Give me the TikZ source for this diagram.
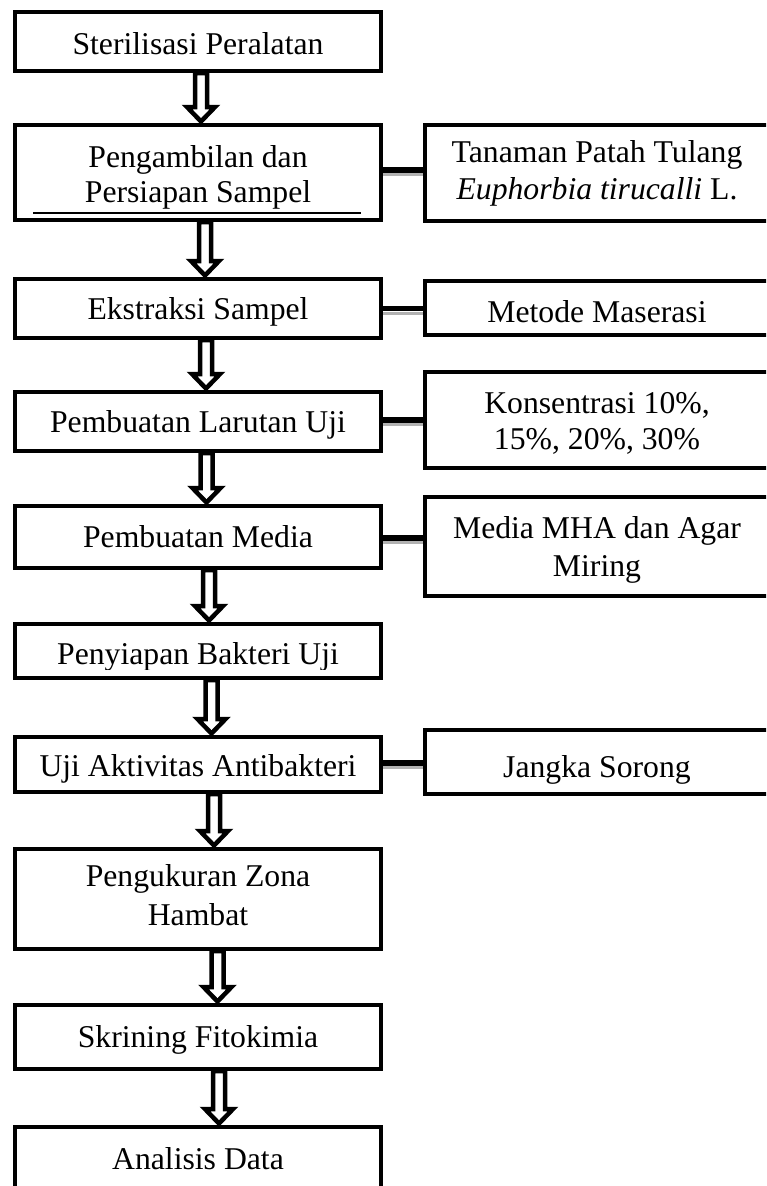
\documentclass[tikz,border=0pt]{standalone}
\usepackage{fontspec}
\setmainfont{Liberation Serif}
\usetikzlibrary{calc}

% hollow double-stroke arrow from the bottom of one box to the top of the next
% #1 = upper node, #2 = lower node, #3 = horizontal offset of the arrow axis
\newcommand\hollowflow[3]{%
  \draw[flowarrow] let \p1=($(#1.south)+(#3,0)$), \p2=($(#2.north)+(#3,0)$) in
    (\x1-6pt,\y1) -- (\x1-6pt,\y2+16pt) -- (\x1-14pt,\y2+16pt) -- (\x1,\y2+1.5pt)
    -- (\x1+14pt,\y2+16pt) -- (\x1+6pt,\y2+16pt) -- (\x1+6pt,\y1) -- cycle;%
}
% invisible struts that fix the vertical extent of two-line labels
\newcommand\firstrow[1]{\rule{0pt}{#1pt}}
\newcommand\lastrow{\rule[-9pt]{0pt}{9pt}}

\begin{document}
\begin{tikzpicture}[x=1pt,y=-1pt,
  boxtext/.style={inner sep=0pt, align=center, font=\fontsize{31.7}{37}\selectfont},
  leading/.style={font=\fontsize{31.7}{#1}\selectfont},
  box/.style={boxtext, draw=black, line width=4pt, fill=white},
  mainbox/.style={box, minimum width=366pt},
  sidebox/.style={box, minimum width=344pt},
  oneline/.style={text height=21pt, text depth=0pt},
  link/.style={line width=5.5pt, black},
  linkshade/.style={line width=3pt, black!30},
  flowarrow/.style={draw=black, fill=white, line width=4.5pt, line join=miter},
]
\useasboundingbox (0,0) rectangle (766,1186);
\clip (0,0) rectangle (766,1186);

% main sequence of steps
\node[mainbox, oneline, text height=26pt, minimum height=59pt] (s1) at (198,41.5) {Sterilisasi Peralatan};
\node[mainbox, leading=35, minimum height=95pt] (s2) at (198,172.5)
  {\firstrow{33}Pengambilan dan\\Persiapan Sampel\lastrow};
\node[mainbox, oneline, minimum height=59pt]  (s3)  at (198,308.5) {Ekstraksi Sampel};
\node[mainbox, oneline, minimum height=59pt]  (s4)  at (198,421.5) {Pembuatan Larutan Uji};
\node[mainbox, oneline, minimum height=62pt]  (s5)  at (198,537)   {Pembuatan Media};
\node[mainbox, minimum height=54pt]           (s6)  at (198,651)   {};
\node[mainbox, oneline, text height=24pt, minimum height=55pt] (s7) at (198,764.5) {Uji Aktivitas Antibakteri};
\node[mainbox, leading=39, minimum height=100pt] (s8) at (198,899)
  {\firstrow{23}Pengukuran Zona\\Hambat\lastrow};
\node[mainbox, oneline, minimum height=64pt]  (s9)  at (198,1037)  {Skrining Fitokimia};
\node[mainbox, oneline, minimum height=63pt]  (s10) at (198,1158.5) {Analisis Data};

% label of the sixth step, cut off just below its baseline
\begin{scope}
  \clip (s6.north west) rectangle ($(s6.south east)+(0,-11)$);
  \node[boxtext, oneline] (s6t) at (198,653.5) {Penyiapan Bakteri Uji};
\end{scope}

% underline inside the second step
\draw[line width=1.6pt] ([xshift=20pt,yshift=9pt]s2.south west) -- ([xshift=-22pt,yshift=9pt]s2.south east);

% side notes
\node[sidebox, leading=36.5, minimum height=96pt] (r2) at (597,173)
  {\firstrow{25}Tanaman Patah Tulang\\\textit{Euphorbia tirucalli} L.\lastrow};
\node[sidebox, oneline, text height=29pt, minimum height=54pt] (r3) at (597,308) {Metode Maserasi};
\node[sidebox, leading=36.5, minimum height=96pt] (r4) at (597,420)
  {\firstrow{32}Konsentrasi 10\%,\\15\%, 20\%, 30\%\lastrow};
\node[sidebox, leading=38, minimum height=99pt] (r5) at (597,546.5)
  {\firstrow{31}Media MHA dan Agar\\Miring\lastrow};
\node[sidebox, oneline, text height=31pt, minimum height=64pt] (r7) at (597,762) {Jangka Sorong};

% links between steps and side notes
\foreach \a/\b/\dy in {s2/r2/-2.5, s3/r3/0, s4/r4/-1.5, s5/r5/1, s7/r7/-1.5} {
  \draw[linkshade] ([yshift=-\dy pt-4.5pt]\a.east) -- ([yshift=-\dy pt-4.5pt]\a.east -| \b.west);
  \draw[link] ([yshift=-\dy pt]\a.east) -- ([yshift=-\dy pt]\a.east -| \b.west);
}

% flow arrows
\hollowflow{s1}{s2}{3}
\hollowflow{s2}{s3}{7}
\hollowflow{s3}{s4}{8}
\hollowflow{s4}{s5}{8.5}
\hollowflow{s5}{s6}{11}
\hollowflow{s6}{s7}{13.5}
\hollowflow{s7}{s8}{16}
\hollowflow{s8}{s9}{19.5}
\hollowflow{s9}{s10}{21}
\end{tikzpicture}
\end{document}
